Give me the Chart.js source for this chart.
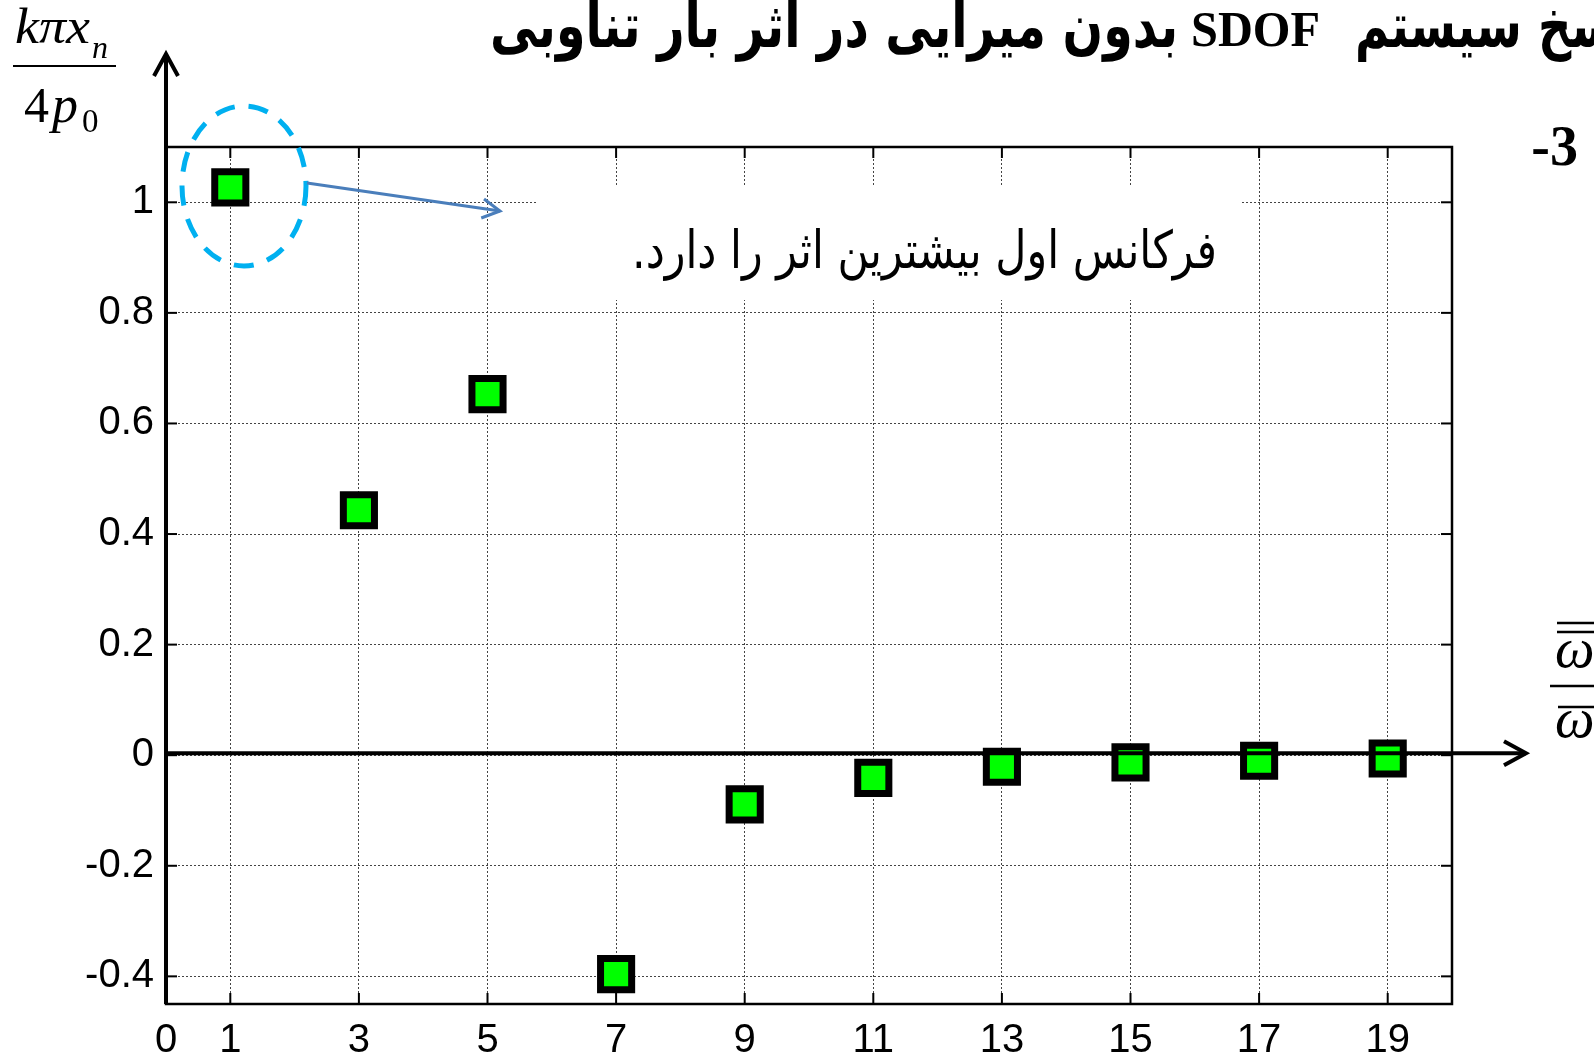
<!DOCTYPE html>
<html>
<head>
<meta charset="utf-8">
<script src="https://cdn.jsdelivr.net/npm/chart.js@4.4.1/dist/chart.umd.min.js"></script>
<style>
  html, body { margin: 0; padding: 0; background: #fff; }
  #wrap { width: 1594px; height: 1056px; }
</style>
</head>
<body>
<div id="wrap"><canvas id="chart" width="1594" height="1056"></canvas></div>
<script>
// harmonic number n and normalised amplitude k*pi*x_n / (4 p0)
const harmonics = [1, 3, 5, 7, 9, 11, 13, 15, 17, 19];
const amplitudes = [1.027, 0.443, 0.653, -0.396, -0.089, -0.041, -0.021, -0.013, -0.010, -0.006];
const xTicks = [0, 1, 3, 5, 7, 9, 11, 13, 15, 17, 19];
const yTicks = [-0.4, -0.2, 0, 0.2, 0.4, 0.6, 0.8, 1];

const titleLeft = 'بدون میرایی در اثر بار تناوبی';
const titleMid = 'SDOF';
const titleRight = 'پاسخ سیستم';
const noteText = 'فرکانس اول بیشترین اثر را دارد.';

// draw text squeezed/stretched to a given width
function fitText(ctx, txt, x, y, w, font, measureTxt, dir) {
  ctx.save();
  ctx.font = font;
  ctx.direction = dir || 'ltr';
  ctx.textAlign = 'left';
  ctx.textBaseline = 'alphabetic';
  const m = ctx.measureText(measureTxt || txt).width;
  ctx.translate(x, y);
  ctx.scale(w / m, 1);
  ctx.fillText(txt, 0, 0);
  ctx.restore();
}

function line(ctx, x1, y1, x2, y2) {
  ctx.beginPath();
  ctx.moveTo(x1, y1);
  ctx.lineTo(x2, y2);
  ctx.stroke();
}

const decor = {
  id: 'decor',
  beforeDatasetsDraw(chart) {
    const ctx = chart.ctx;
    const a = chart.chartArea;
    const xs = chart.scales.x, ys = chart.scales.y;
    ctx.save();
    // white box behind the note
    ctx.fillStyle = '#fff';
    ctx.fillRect(536, 186, 705, 114);
    // frame
    ctx.strokeStyle = '#000';
    ctx.lineWidth = 2.5;
    ctx.strokeRect(a.left, a.top, a.right - a.left, a.bottom - a.top);
    // inner tick marks
    ctx.lineWidth = 2;
    xTicks.forEach(v => {
      if (v === 0) return;
      const px = xs.getPixelForValue(v);
      line(ctx, px, a.bottom, px, a.bottom - 11);
      line(ctx, px, a.top, px, a.top + 11);
    });
    yTicks.forEach(v => {
      const py = ys.getPixelForValue(v);
      line(ctx, a.left, py, a.left + 11, py);
      line(ctx, a.right, py, a.right - 11, py);
    });
    ctx.restore();
  },
  afterDatasetsDraw(chart) {
    const ctx = chart.ctx;
    const a = chart.chartArea;
    const ys = chart.scales.y;
    ctx.save();
    ctx.strokeStyle = '#000';
    ctx.lineWidth = 4;
    ctx.lineCap = 'butt';
    ctx.lineJoin = 'miter';
    // y axis arrow
    line(ctx, a.left, a.bottom, a.left, 54);
    ctx.beginPath();
    ctx.moveTo(a.left - 12, 76);
    ctx.lineTo(a.left, 54);
    ctx.lineTo(a.left + 12, 76);
    ctx.stroke();
    // x axis arrow
    const y0 = ys.getPixelForValue(0) - 2;
    line(ctx, a.left, y0, 1526, y0);
    ctx.beginPath();
    ctx.moveTo(1504, y0 - 12);
    ctx.lineTo(1526, y0);
    ctx.lineTo(1504, y0 + 12);
    ctx.stroke();

    // dashed ellipse
    ctx.strokeStyle = '#00b0f0';
    ctx.lineWidth = 5;
    ctx.setLineDash([20, 14]);
    ctx.beginPath();
    ctx.ellipse(244, 186, 62, 80, 0, 0, Math.PI * 2);
    ctx.stroke();
    ctx.setLineDash([]);

    // pointer arrow
    ctx.strokeStyle = '#4a7ebb';
    ctx.lineWidth = 3;
    const x1 = 307, y1 = 183, x2 = 500, y2 = 211;
    line(ctx, x1, y1, x2, y2);
    const ang = Math.atan2(y2 - y1, x2 - x1);
    ctx.beginPath();
    ctx.moveTo(x2 - 20 * Math.cos(ang - 0.5), y2 - 20 * Math.sin(ang - 0.5));
    ctx.lineTo(x2, y2);
    ctx.lineTo(x2 - 20 * Math.cos(ang + 0.5), y2 - 20 * Math.sin(ang + 0.5));
    ctx.stroke();

    // texts
    ctx.fillStyle = '#000';
    fitText(ctx, noteText, 632, 268, 585, '52px "DejaVu Sans"', null, 'rtl');

    // title (right end runs off the page)
    fitText(ctx, titleLeft, 490, 47, 688, 'bold 62px "DejaVu Sans"', null, 'rtl');
    fitText(ctx, titleMid, 1191, 46, 129, 'bold 50px "Liberation Serif"');
    fitText(ctx, titleRight, 1355, 47, 262, 'bold 62px "DejaVu Sans"', 'سخ سیستم', 'rtl');

    // "-3"
    ctx.font = 'bold 56px "Liberation Serif"';
    ctx.textAlign = 'right';
    ctx.fillText('-3', 1578, 165);

    // y label fraction
    ctx.textAlign = 'left';
    fitText(ctx, 'kπx', 15, 43, 75, 'italic 50px "Liberation Serif"');
    ctx.font = 'italic 32px "Liberation Serif"';
    ctx.fillText('n', 92, 58);
    ctx.lineWidth = 2;
    ctx.strokeStyle = '#000';
    line(ctx, 13, 66, 116, 66);
    ctx.font = '50px "Liberation Serif"';
    ctx.fillText('4', 24, 122);
    ctx.font = 'italic 52px "Liberation Serif"';
    ctx.fillText('p', 52, 122);
    ctx.font = '33px "Liberation Serif"';
    ctx.fillText('0', 82, 132);

    // x label fraction (cut at the right edge)
    ctx.font = 'italic 56px "Liberation Serif"';
    ctx.fillText('ω', 1555, 667);
    ctx.fillText('ω', 1555, 737);
    ctx.lineWidth = 2.5;
    line(ctx, 1557, 623, 1594, 623);
    line(ctx, 1557, 632, 1594, 632);
    line(ctx, 1550, 686, 1594, 686);
    line(ctx, 1558, 707, 1594, 707);
    ctx.restore();
  }
};

const points = harmonics.map((n, i) => ({ x: n, y: amplitudes[i] }));

new Chart(document.getElementById('chart').getContext('2d'), {
  type: 'scatter',
  data: {
    datasets: [{
      data: points,
      pointStyle: 'rect',
      pointRadius: 22,
      pointHoverRadius: 22,
      pointBorderWidth: 7,
      pointBorderColor: '#000',
      pointBackgroundColor: '#00ff00',
      showLine: false
    }]
  },
  options: {
    responsive: false,
    animation: false,
    events: [],
    layout: { padding: { top: 147, right: 142, left: 0, bottom: 0 } },
    plugins: { legend: { display: false }, tooltip: { enabled: false } },
    scales: {
      x: {
        type: 'linear',
        min: 0,
        max: 20,
        afterBuildTicks: s => { s.ticks = xTicks.map(v => ({ value: v })); },
        afterFit: s => { s.height = 52; },
        grid: { color: '#444', lineWidth: 1, drawTicks: false },
        border: { display: false, dash: [2, 2] },
        ticks: {
          autoSkip: false,
          maxRotation: 0,
          padding: 13,
          color: '#000',
          font: { family: 'Liberation Sans', size: 40 },
          callback: v => String(v)
        }
      },
      y: {
        type: 'linear',
        min: -0.45,
        max: 1.1,
        afterBuildTicks: s => { s.ticks = yTicks.map(v => ({ value: v })); },
        afterFit: s => { s.width = 166; },
        grid: { color: '#444', lineWidth: 1, drawTicks: false },
        border: { display: false, dash: [2, 2] },
        ticks: {
          padding: 12,
          color: '#000',
          font: { family: 'Liberation Sans', size: 40 },
          callback: v => String(Number(v.toFixed(1)))
        }
      }
    }
  },
  plugins: [decor]
});
</script>
</body>
</html>
